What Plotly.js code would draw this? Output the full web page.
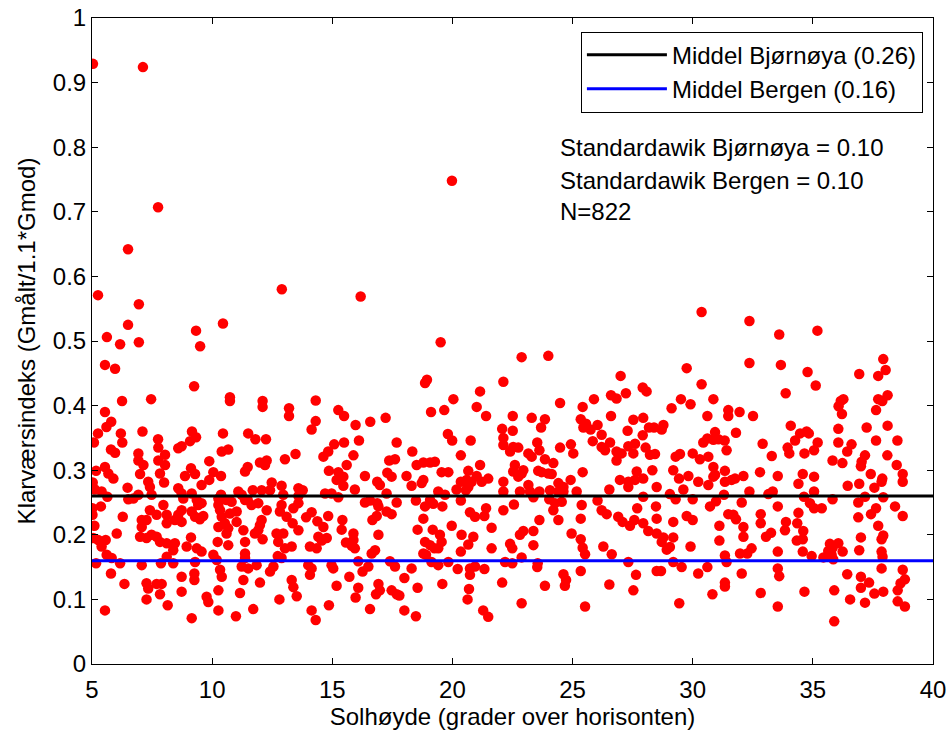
<!DOCTYPE html>
<html>
<head>
<meta charset="utf-8">
<script src="https://cdn.plot.ly/plotly-3.0.1.min.js"></script>
<style>html,body{margin:0;padding:0;background:#fff;}#plot{width:950px;height:734px;}</style>
</head>
<body>
<div id="plot"></div>
<script>
// Mean values and statistics (from the chart text)
const middelBjornoya = 0.26;
const middelBergen = 0.16;
const xRange = [5, 40];

const punkterTopp = [[5.04,0.929],[7.12,0.924],[7.75,0.707],[19.98,0.748]];

const punkterA = [
[6.5,0.642],[5.25,0.571],[6.95,0.557],[6.5,0.525],[5.62,0.506],[6.17,0.495],[6.95,0.498],[5.54,0.463],[5.96,0.457],[9.25,0.43],[6.25,0.407],[7.46,0.41],[10.74,0.413],[10.74,0.407],[12.1,0.407],[12.1,0.398],[13.2,0.396],[13.2,0.384],[5.54,0.39],[5.8,0.375],[5.6,0.367],[5.25,0.357],[6.2,0.357],[7.1,0.36],[7.75,0.348],[9.16,0.36],[9.33,0.351],[9.08,0.345],[10.45,0.357],[11.5,0.357],[11.8,0.348],[12.24,0.348],[12.9,0.58],[10.45,0.527],[9.33,0.516],[9.5,0.492],[5.08,0.343],[6.26,0.343],
[5.79,0.332],[5.96,0.327],[6.93,0.326],[7.76,0.335],[8.04,0.324],[8.59,0.334],[8.73,0.337],[10.4,0.329],[10.67,0.332],[13.03,0.317],[13.47,0.325],
[5.17,0.299],[5.54,0.305],[5.68,0.295],[5.89,0.287],[6.93,0.315],[7.14,0.308],[7.0,0.294],[7.76,0.315],[8.04,0.308],[7.83,0.295],[8.0,0.281],[8.87,0.291],[9.12,0.303],[9.29,0.294],[9.88,0.314],[10.05,0.297],[10.37,0.291],[9.88,0.285],[9.56,0.277],[11.37,0.298],[11.48,0.305],[11.99,0.312],[12.2,0.308],[12.27,0.315],[12.48,0.281],[12.89,0.276],[5.03,0.281],[13.59,0.272],[5.12,0.27],
[5.40,0.267],[5.64,0.259],[6.48,0.273],[6.51,0.255],[6.72,0.256],[6.93,0.262],[7.34,0.282],[7.41,0.274],[7.48,0.262],[8.59,0.272],[8.73,0.264],[8.80,0.256],[9.15,0.264],[9.36,0.254],[9.56,0.249],[10.26,0.256],[10.37,0.262],[10.6,0.254],[10.81,0.251],[11.09,0.267],[11.23,0.262],[11.48,0.254],[11.69,0.269],[12.06,0.269],[12.41,0.269],[12.96,0.262],[13.59,0.26],
[5.02,0.241],[5.02,0.231],[5.37,0.244],[6.28,0.228],[7.07,0.223],[7.27,0.223],[7.41,0.238],[7.69,0.231],[7.97,0.246],[8.11,0.231],[8.11,0.218],[8.45,0.223],[8.59,0.231],[8.73,0.238],[8.73,0.220],[9.15,0.236],[9.29,0.228],[9.49,0.224],[9.63,0.229],[9.42,0.246],[10.26,0.246],[10.33,0.238],[10.4,0.228],[10.53,0.218],[10.74,0.233],[11.02,0.236],[11.02,0.220],[11.37,0.254],[11.64,0.246],[11.92,0.249],[12.06,0.223],[11.99,0.215],[12.27,0.238],[12.82,0.236],[12.89,0.246],[13.1,0.228],[13.38,0.241],[13.59,0.249],[13.35,0.218],
[5.10,0.214],[6.03,0.202],[7.07,0.212],[7.0,0.197],[7.27,0.195],[7.48,0.2],[7.69,0.197],[7.83,0.189],[8.11,0.187],[8.38,0.176],[8.45,0.187],[8.94,0.182],[9.12,0.196],[9.36,0.179],[9.56,0.174],[10.26,0.212],[10.67,0.21],[10.6,0.202],[10.23,0.189],[10.67,0.184],[11.3,0.207],[11.37,0.189],[11.78,0.202],[11.92,0.207],[12.1,0.193],[12.68,0.202],[12.96,0.202],[12.75,0.189],[13.03,0.179],[13.31,0.182],[13.59,0.207],[5.05,0.195],[5.26,0.192],[5.40,0.182],[5.57,0.192],
[5.61,0.169],[5.82,0.164],[5.17,0.156],[6.17,0.156],[7.07,0.153],[7.87,0.156],[8.11,0.166],[8.38,0.156],[9.29,0.158],[10.05,0.169],[10.19,0.161],[11.37,0.171],[11.37,0.164],[11.23,0.151],[11.5,0.148],[11.85,0.153],[12.55,0.151],[12.73,0.167],[12.89,0.164],
[5.79,0.14],[6.35,0.124],[7.27,0.125],[7.34,0.117],[7.69,0.124],[7.90,0.124],[7.83,0.108],[8.73,0.135],[8.73,0.112],[9.26,0.14],[9.26,0.13],[10.33,0.146],[10.4,0.135],[10.26,0.114],[11.3,0.13],[11.16,0.11],[11.99,0.126],[12.41,0.143],[13.31,0.13],[13.38,0.119],[13.52,0.105],[7.27,0.1],[9.77,0.104],[9.84,0.096],[12.8,0.1],[5.54,0.083],[8.15,0.091],[9.15,0.071],[10.26,0.083],[10.99,0.074],[11.71,0.085]
];

const punkterB = [
[16.18,0.569],[19.51,0.498],[18.86,0.435],[18.94,0.44],[22.12,0.437],[14.31,0.408],[15.25,0.393],[15.49,0.384],[15.97,0.37],[16.58,0.375],[17.22,0.381],[14.31,0.376],[14.14,0.363],[19.11,0.39],[19.66,0.393],[20.04,0.41],[21.15,0.422],[21.01,0.398],[21.4,0.384],[22.07,0.364],[19.81,0.356],[19.99,0.346],[20.76,0.346],[16.11,0.346],[15.49,0.343],[15.08,0.34],[17.68,0.343],[22.12,0.35],[22.12,0.339],
[14.63,0.321],[14.83,0.329],[15.88,0.323],[18.33,0.329],[20.35,0.323],
[14.86,0.299],[15.25,0.297],[15.18,0.285],[15.46,0.29],[15.6,0.308],[15.46,0.276],[16.36,0.291],[16.87,0.282],[16.98,0.277],[17.29,0.296],[17.47,0.29],[17.37,0.315],[17.61,0.317],[18.09,0.291],[18.51,0.308],[18.79,0.312],[19.07,0.312],[19.27,0.313],[18.3,0.276],[18.72,0.28],[18.79,0.285],[19.55,0.297],[19.83,0.297],[20.35,0.282],[20.66,0.299],[20.59,0.285],[20.8,0.282],[21.01,0.291],[21.15,0.308],[21.22,0.282],[21.49,0.287],[22.12,0.282],[13.77,0.269],
[14.7,0.264],[14.97,0.264],[15.25,0.258],[15.94,0.27],[16.36,0.25],[16.57,0.253],[16.87,0.249],[17.26,0.264],[17.68,0.25],[18.48,0.253],[19.07,0.254],[19.2,0.248],[19.41,0.267],[19.69,0.262],[20.17,0.27],[20.35,0.253],[20.56,0.269],[20.66,0.274],[22.12,0.267],
[13.91,0.227],[14.14,0.235],[14.38,0.221],[14.63,0.212],[14.83,0.229],[15.42,0.223],[16.67,0.223],[16.85,0.229],[16.92,0.244],[17.26,0.236],[17.47,0.232],[18.86,0.244],[18.79,0.225],[19.58,0.244],[20.73,0.235],[20.94,0.228],[21.33,0.229],[21.4,0.241],[22.12,0.238],[15.39,0.208],[15.88,0.202],[18.55,0.208],[19.18,0.208],[19.97,0.214],[21.63,0.211],
[14.42,0.197],[14.56,0.191],[14.77,0.195],[15.57,0.188],[15.88,0.192],[15.94,0.179],[15.81,0.183],[14.07,0.182],[14.35,0.179],[16.92,0.2],[16.78,0.176],[16.64,0.171],[18.86,0.189],[19.07,0.184],[19.25,0.179],[19.48,0.2],[19.55,0.189],[19.41,0.179],[18.79,0.171],[18.9,0.169],[20.38,0.2],[20.87,0.197],[20.66,0.185],[20.35,0.174],[21.63,0.179],
[14.0,0.153],[14.14,0.148],[14.07,0.138],[14.97,0.153],[15.04,0.148],[16.08,0.159],[16.5,0.151],[16.26,0.143],[17.4,0.159],[17.61,0.151],[18.3,0.148],[19.13,0.158],[19.41,0.153],[19.83,0.158],[20.22,0.147],[20.73,0.148],[20.94,0.151],[20.73,0.138],[21.33,0.147],[22.19,0.158],
[15.18,0.121],[15.71,0.135],[16.08,0.118],[15.97,0.103],[16.92,0.124],[16.98,0.114],[16.82,0.108],[17.47,0.114],[17.68,0.108],[17.79,0.106],[18.0,0.133],[18.55,0.118],[19.58,0.124],[20.69,0.116],[20.63,0.1],[22.07,0.126],
[14.14,0.083],[14.31,0.068],[14.86,0.091],[16.57,0.085],[18.0,0.083],[18.48,0.074],[21.28,0.083],[21.49,0.073]
];

const punkterC = [
[30.37,0.545],[22.88,0.475],[23.99,0.477],[27.0,0.446],[29.75,0.458],[27.92,0.428],[28.08,0.422],[30.37,0.433],[26.6,0.416],[26.83,0.411],[27.22,0.419],[25.89,0.41],[25.42,0.398],[24.48,0.404],[29.12,0.396],[29.51,0.41],[29.91,0.402],[30.86,0.41],[22.51,0.384],[23.3,0.381],[23.85,0.379],[23.69,0.366],[25.34,0.379],[25.56,0.372],[25.45,0.366],[25.75,0.363],[26.04,0.37],[26.6,0.384],[27.53,0.378],[27.94,0.381],[28.18,0.366],[28.39,0.366],[28.78,0.37],[28.71,0.363],[30.61,0.384],[30.93,0.359],[22.51,0.361],[27.29,0.361],[27.92,0.354],[26.21,0.355],[30.61,0.349],
[22.53,0.336],[22.74,0.335],[22.4,0.329],[23.16,0.326],[23.3,0.321],[23.53,0.343],[23.62,0.331],[23.85,0.317],[24.48,0.335],[24.93,0.34],[25.03,0.326],[25.84,0.345],[26.21,0.336],[26.35,0.331],[26.56,0.343],[26.83,0.329],[26.83,0.315],[27.04,0.326],[27.32,0.337],[27.6,0.341],[27.53,0.326],[28.04,0.335],[28.22,0.324],[28.43,0.325],[29.29,0.321],[29.47,0.325],[30.0,0.326],[30.3,0.317],[30.44,0.343],[30.65,0.321],[30.86,0.347],
[22.6,0.308],[22.53,0.298],[22.74,0.29],[22.88,0.295],[22.95,0.3],[23.57,0.299],[23.71,0.297],[23.99,0.295],[24.13,0.294],[24.2,0.311],[25.42,0.297],[24.92,0.285],[23.16,0.277],[24.41,0.28],[24.62,0.274],[26.97,0.285],[27.32,0.282],[27.32,0.274],[27.67,0.298],[27.6,0.285],[27.94,0.287],[28.32,0.3],[29.19,0.3],[29.43,0.287],[29.82,0.291],[30.23,0.282],[30.65,0.277],[30.86,0.305],[30.86,0.29],[28.5,0.274],
[22.81,0.267],[23.23,0.267],[23.37,0.258],[23.62,0.267],[24.06,0.269],[24.03,0.255],[24.41,0.267],[24.62,0.267],[25.17,0.267],[24.55,0.251],[25.38,0.246],[24.27,0.249],[26.04,0.253],[26.53,0.27],[27.94,0.259],[29.05,0.263],[29.29,0.255],[29.61,0.27],[30.0,0.255],[30.72,0.244],[22.56,0.247],
[24.2,0.238],[24.41,0.223],[23.62,0.223],[26.21,0.238],[26.42,0.232],[25.34,0.225],[26.9,0.228],[27.08,0.22],[27.39,0.214],[27.57,0.223],[27.69,0.241],[27.94,0.218],[28.47,0.244],[28.5,0.225],[29.19,0.22],[29.75,0.229],[30.0,0.223],
[22.81,0.2],[22.95,0.206],[23.37,0.206],[24.96,0.202],[25.34,0.193],[25.42,0.18],[25.52,0.17],[22.4,0.186],[22.49,0.179],[23.37,0.184],[26.28,0.182],[26.63,0.17],[28.15,0.206],[28.5,0.202],[28.78,0.196],[28.71,0.189],[28.92,0.177],[29.05,0.181],[29.19,0.196],[29.91,0.182],
[22.88,0.165],[22.49,0.156],[23.55,0.156],[23.53,0.15],[25.34,0.144],[27.32,0.158],[28.5,0.144],[28.68,0.144],[29.19,0.158],[29.54,0.15],[30.23,0.14],[30.61,0.15],
[23.85,0.121],[24.62,0.139],[24.73,0.13],[24.68,0.121],[26.53,0.123],[27.64,0.138],[27.53,0.114],[30.82,0.108],[22.88,0.094],[25.52,0.089],[29.44,0.094]
];

const punkterD = [
[32.36,0.531],[33.6,0.51],[35.19,0.516],[32.36,0.466],[33.67,0.463],[34.78,0.452],[35.12,0.431],[36.93,0.449],[37.93,0.472],[38.03,0.455],[37.72,0.446],[33.87,0.419],[38.11,0.416],[37.72,0.41],[37.89,0.407],[36.27,0.41],[36.16,0.407],[36.07,0.399],[36.21,0.387],[37.63,0.393],[31.48,0.393],[31.48,0.384],[31.95,0.39],[32.51,0.384],[34.08,0.369],[37.24,0.366],[38.11,0.369],[36.06,0.364],[31.07,0.348],[31.33,0.346],[31.8,0.358],[32.91,0.341],[33.95,0.335],[34.26,0.346],[34.47,0.357],[34.74,0.36],[34.83,0.357],[35.2,0.343],[36.06,0.343],[36.61,0.34],[37.63,0.346],[38.52,0.346],
[31.41,0.331],[33.29,0.322],[34.02,0.326],[34.65,0.326],[35.05,0.331],[36.43,0.329],[37.17,0.323],[38.1,0.323],
[30.93,0.293],[31.34,0.299],[31.34,0.282],[31.62,0.285],[31.76,0.287],[32.11,0.291],[32.8,0.297],[33.54,0.291],[34.4,0.279],[34.58,0.294],[35.05,0.29],[35.05,0.267],[35.82,0.315],[36.23,0.311],[36.45,0.276],[36.93,0.279],[37.03,0.313],[37.0,0.306],[37.41,0.294],[37.56,0.273],[37.89,0.287],[37.86,0.282],[38.49,0.308],[38.74,0.294],[38.74,0.282],
[30.97,0.252],[31.3,0.262],[32.04,0.25],[32.36,0.267],[33.15,0.263],[33.33,0.267],[33.54,0.244],[34.63,0.259],[34.88,0.249],[35.05,0.241],[35.37,0.241],[35.82,0.255],[36.89,0.25],[37.17,0.259],[37.63,0.241],[37.93,0.258],[38.42,0.244],[38.74,0.229],
[31.48,0.232],[31.69,0.231],[31.8,0.224],[31.11,0.214],[32.11,0.212],[32.83,0.232],[32.83,0.218],[33.26,0.203],[33.05,0.197],[33.88,0.22],[33.84,0.207],[34.4,0.234],[34.35,0.218],[34.6,0.206],[34.58,0.193],[34.33,0.191],[31.11,0.191],[32.11,0.197],[36.89,0.227],[37.42,0.232],[37.72,0.214],[37.0,0.196],[37.93,0.199],[37.86,0.193],[36.93,0.176],
[35.71,0.186],[36.06,0.187],[35.82,0.18],[35.64,0.175],[35.78,0.169],[36.24,0.174],[35.85,0.162],[34.95,0.167],[35.44,0.165],[34.58,0.174],[33.54,0.174],[32.27,0.171],[31.97,0.171],[32.45,0.179],[31.34,0.168],[31.41,0.158],[37.86,0.174],[37.9,0.166],
[32.04,0.14],[33.54,0.148],[33.6,0.136],[36.43,0.139],[37.0,0.135],[37.34,0.126],[37.0,0.118],[37.86,0.148],[38.74,0.146],[38.83,0.131],[38.65,0.125],[38.53,0.114],[31.34,0.126],[31.34,0.12],[32.83,0.11],[34.65,0.112],[35.89,0.114],[36.55,0.1],[37.17,0.095],[37.56,0.109],[37.93,0.112],[38.53,0.097],[38.83,0.089],[33.54,0.089],[35.89,0.066]
];

const alle = punkterTopp.concat(punkterA, punkterB, punkterC, punkterD);
const solhoyde = alle.map(p => p[0]);
const klarindeks = alle.map(p => p[1]);

const FONT = 'Liberation Sans, Arial, Helvetica, sans-serif';
const FS = 24;

const data = [
  {
    type: 'scatter', mode: 'markers', x: solhoyde, y: klarindeks,
    marker: {color: '#ff0000', size: 10.5, line: {width: 0}},
    showlegend: false, hoverinfo: 'x+y'
  },
  {
    type: 'scatter', mode: 'lines', x: xRange, y: [middelBjornoya, middelBjornoya],
    line: {color: '#000000', width: 3}, name: 'Middel Bjørnøya (' + middelBjornoya.toFixed(2) + ')'
  },
  {
    type: 'scatter', mode: 'lines', x: xRange, y: [middelBergen, middelBergen],
    line: {color: '#0000ff', width: 3}, name: 'Middel Bergen (' + middelBergen.toFixed(2) + ')'
  }
];

const axisCommon = {
  showline: true, linecolor: '#000', linewidth: 1, mirror: 'ticks',
  ticks: 'inside', ticklen: 6, tickwidth: 1, tickcolor: '#000',
  showgrid: false, zeroline: false,
  tickfont: {family: FONT, size: FS, color: '#000'}
};

const layout = {
  width: 950, height: 734,
  margin: {l: 92, r: 17, t: 18, b: 70, pad: 0},
  paper_bgcolor: '#fff', plot_bgcolor: '#fff',
  font: {family: FONT, size: FS, color: '#000'},
  xaxis: Object.assign({}, axisCommon, {
    range: [5, 40], tick0: 5, dtick: 5, ticklabelstandoff: 4,
    title: {text: 'Solhøyde (grader over horisonten)', font: {family: FONT, size: FS, color: '#000'}, standoff: 4}
  }),
  yaxis: Object.assign({}, axisCommon, {
    range: [0, 1], tick0: 0, dtick: 0.1,
    title: {text: 'Klarværsindeks (Gmålt/1.1*Gmod)', font: {family: FONT, size: FS, color: '#000'}, standoff: 10}
  }),
  legend: {
    x: 0.988, xanchor: 'right', y: 0.979, yanchor: 'top',
    bgcolor: '#fff', bordercolor: '#000', borderwidth: 1,
    font: {family: FONT, size: FS, color: '#000'},
    itemwidth: 80, tracegroupgap: 0
  },
  annotations: [
    {xref: 'paper', yref: 'paper', x: 0.554, y: 0.7988, xanchor: 'left', yanchor: 'middle', showarrow: false, text: 'Standardawik Bjørnøya = 0.10', font: {family: FONT, size: FS, color: '#000'}},
    {xref: 'paper', yref: 'paper', x: 0.554, y: 0.749, xanchor: 'left', yanchor: 'middle', showarrow: false, text: 'Standardawik Bergen = 0.10', font: {family: FONT, size: FS, color: '#000'}},
    {xref: 'paper', yref: 'paper', x: 0.554, y: 0.701, xanchor: 'left', yanchor: 'middle', showarrow: false, text: 'N=822', font: {family: FONT, size: FS, color: '#000'}}
  ],
  showlegend: true
};

Plotly.newPlot('plot', data, layout, {displayModeBar: false, staticPlot: true});
</script>
</body>
</html>
